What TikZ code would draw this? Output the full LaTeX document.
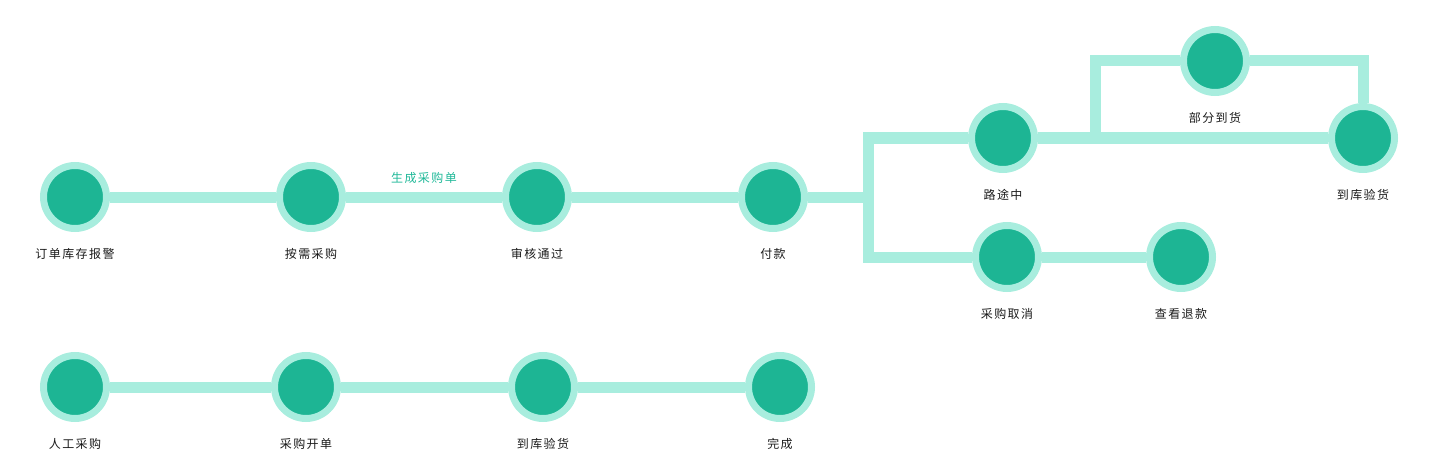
\documentclass[tikz,border=0pt]{standalone}
\usepackage{fontspec}
\newfontfamily\cjk[LetterSpace=12]{Noto Sans CJK SC}
\definecolor{ring}{HTML}{A8EDDE}
\definecolor{dot}{HTML}{1DB594}
\definecolor{txt}{HTML}{1A1A1A}
\definecolor{note}{HTML}{1FB898}
\begin{document}
\begin{tikzpicture}[x=1pt,y=-1pt,
  stop/.style={circle,fill=dot,draw=ring,line width=7pt,minimum size=63pt,inner sep=0pt},
  every label/.style={font=\cjk\fontsize{12}{12}\selectfont,text=txt,inner sep=0pt},
  label distance=16pt,
  line/.style={draw=ring,line width=11pt}]
\useasboundingbox (0,0) rectangle (1434,476);
% first flow
\path
(75,197) node[stop,label=below:订单库存报警](1){}
(311,197) node[stop,label=below:按需采购](2){}
(537,197) node[stop,label=below:审核通过](3){}
(773,197) node[stop,label=below:付款](4){}
(1003,138) node[stop,label=below:路途中](5){}
(1363,138) node[stop,label=below:到库验货](6){}
(1215,61) node[stop,label=below:部分到货](7){}
(1007,257) node[stop,label=below:采购取消](8){}
(1181,257) node[stop,label=below:查看退款](9){};
\coordinate (k) at (868,197);
\coordinate (j) at (1095,138);
\node[font=\cjk\fontsize{12}{12}\selectfont,text=note,inner sep=0pt](t) at (424,178){生成采购单};
\path[line] (1)--(2);
\path[line] (2)--(3);
\path[line] (3)--(4);
\path[line] (4)--(k);
\path[line] (5) -| (k) |- (8);
\path[line] (5)--(6);
\path[line] (8)--(9);
\path[line] (j) |- (7);
\path[line] (7) -| (6);
% second flow
\path
(75,387) node[stop,label=below:人工采购](10){}
(306,387) node[stop,label=below:采购开单](11){}
(543,387) node[stop,label=below:到库验货](12){}
(780,387) node[stop,label=below:完成](13){};
\path[line] (10)--(11);
\path[line] (11)--(12);
\path[line] (12)--(13);
\end{tikzpicture}
\end{document}
